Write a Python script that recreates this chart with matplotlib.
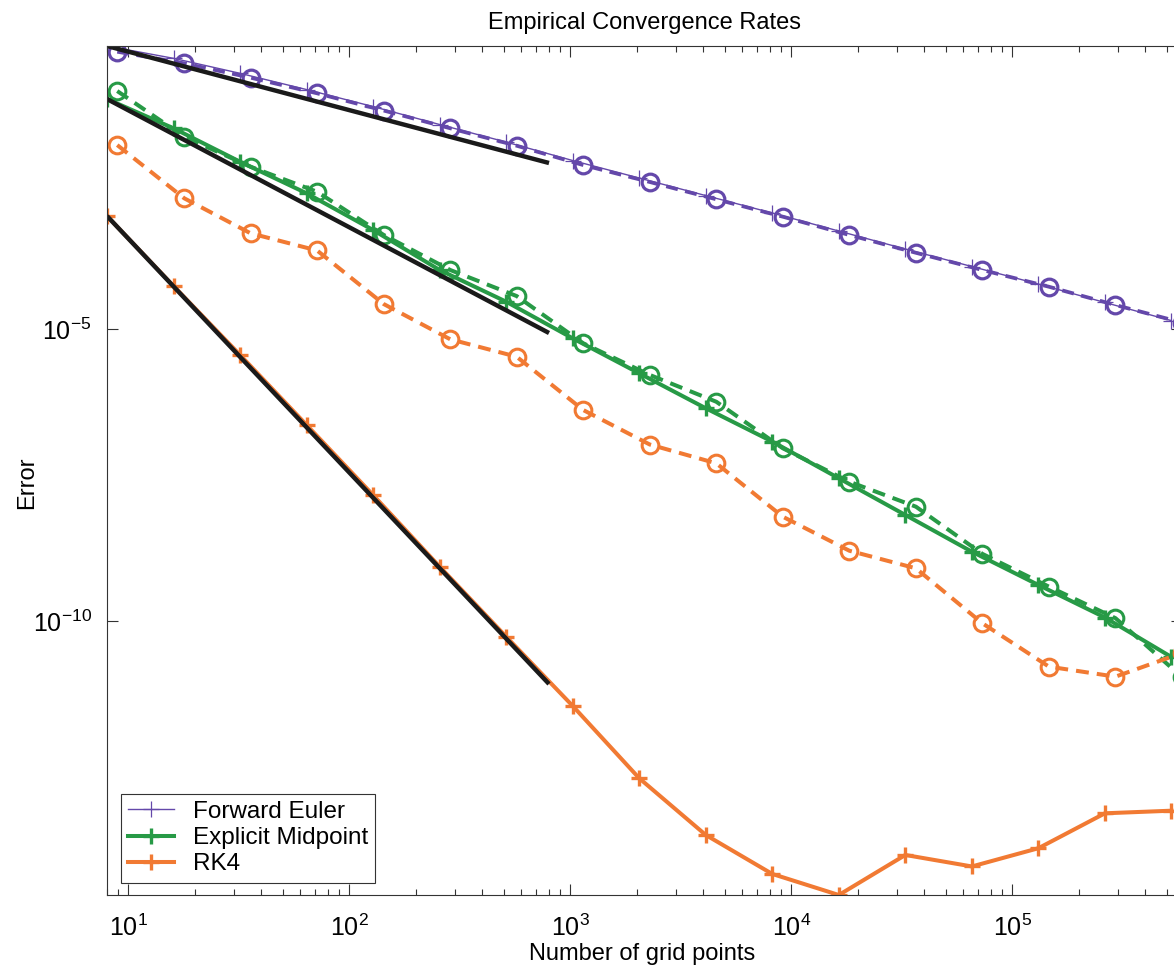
import matplotlib
matplotlib.use("Agg")
import matplotlib.pyplot as plt
from matplotlib.ticker import NullLocator

plt.rcParams["font.family"] = ["Liberation Sans", "DejaVu Sans"]
plt.rcParams["mathtext.default"] = "regular"
plt.rcParams["axes.unicode_minus"] = False

# grid sizes for the solid runs and for the dashed (circle) runs
n_points = [8, 16, 32, 64, 128, 256, 512, 1024, 2048, 4096, 8192, 16384,
            32768, 65536, 131072, 262144, 524288]
n_points_alt = [8.9, 17.9, 35.7, 71.4, 143, 286, 571, 1143, 2286, 4571, 9143,
                18286, 36571, 73143, 146286, 292571, 585143]

euler_err = [0.689, 0.424, 0.235, 0.124, 0.0635, 0.0313, 0.0157, 7.59e-3,
             3.81e-3, 1.91e-3, 9.62e-4, 4.73e-4, 2.33e-4, 1.17e-4, 5.87e-5,
             2.84e-5, 1.39e-5]
euler_err_alt = [0.550, 0.348, 0.198, 0.107, 0.0543, 0.0270, 0.0136, 6.35e-3,
                 3.26e-3, 1.65e-3, 8.32e-4, 4.05e-4, 2.01e-4, 1.02e-4, 5.28e-5,
                 2.57e-5, 1.29e-5]

midpoint_err = [0.0855, 0.0270, 7.24e-3, 2.09e-3, 4.92e-4, 1.02e-4, 2.93e-5,
                6.93e-6, 1.75e-6, 4.42e-7, 1.19e-7, 2.81e-8, 6.62e-9, 1.56e-9,
                4.21e-10, 1.17e-10, 2.47e-11]
midpoint_err_alt = [0.117, 0.01936, 5.94e-3, 2.22e-3, 4.05e-4, 1.02e-4, 3.66e-5,
                    5.70e-6, 1.64e-6, 5.71e-7, 9.14e-8, 2.45e-8, 9.18e-9,
                    1.43e-9, 3.94e-10, 1.14e-10, 1.12e-11]

rk4_err = [8.55e-4, 5.43e-5, 3.60e-6, 2.29e-7, 1.45e-8, 8.65e-10, 5.50e-11,
           3.60e-12, 2.09e-13, 2.24e-14, 4.83e-15, 2.11e-15, 1.02e-14,
           6.49e-15, 1.33e-14, 5.26e-14, 5.83e-14]
rk4_err_alt = [0.01396, 1.714e-3, 4.33e-4, 2.20e-4, 2.67e-5, 6.67e-6, 3.36e-6,
               4.12e-7, 1.06e-7, 5.06e-8, 6.18e-9, 1.62e-9, 8.11e-10, 9.31e-11,
               1.69e-11, 1.14e-11, 2.90e-11]

# reference slopes (order 1, 2, 4) anchored at the coarsest grid
ref_n = [8, 800]
ref_order1 = [0.689, 6.89e-3]
ref_order2 = [0.0855, 8.55e-6]
ref_order4 = [8.55e-4, 8.55e-12]

PURPLE = "#6448aa"
GREEN = "#279a46"
ORANGE = "#f17a33"

W, H = 1174, 971
fig = plt.figure(figsize=(W / 100, H / 100), dpi=100)
# right spine sits just past the image edge
left, right, top, bottom = 107, 1182, 46, 895
ax = fig.add_axes([left / W, 1 - bottom / H, (right - left) / W, (bottom - top) / H])

dash = (0, (3.2, 2.0))

ax.plot(n_points, euler_err, color=PURPLE, lw=1.0, marker="+", ms=11, mew=0.9,
        label="Forward Euler")
ax.plot(n_points_alt, euler_err_alt, color=PURPLE, lw=2.7, ls=dash, marker="o",
        ms=12, mew=2.3, mfc="none")

ax.plot(n_points, midpoint_err, color=GREEN, lw=2.9, marker="+", ms=11, mew=2.4,
        label="Explicit Midpoint")
ax.plot(n_points_alt, midpoint_err_alt, color=GREEN, lw=2.9, ls=dash, marker="o",
        ms=12, mew=2.2, mfc="none")

ax.plot(n_points, rk4_err, color=ORANGE, lw=2.9, marker="+", ms=11, mew=2.4,
        label="RK4")
ax.plot(n_points_alt, rk4_err_alt, color=ORANGE, lw=2.9, ls=dash, marker="o",
        ms=12, mew=2.2, mfc="none")

for ref in (ref_order1, ref_order2, ref_order4):
    ax.plot(ref_n, ref, color="#1a1a1a", lw=3.2, solid_capstyle="butt")

ax.set_xscale("log")
ax.set_yscale("log")
ax.set_yticks([1e-15, 1e-10, 1e-5, 1e0])
ax.yaxis.set_minor_locator(NullLocator())

all_err = euler_err + euler_err_alt + midpoint_err + midpoint_err_alt + rk4_err + rk4_err_alt
ax.set_xlim(min(n_points), max(n_points_alt))
ax.set_ylim(min(all_err), max(all_err))

ax.tick_params(which="both", direction="in", top=True, right=True,
               labelsize=18, color="#333333", width=0.8)
ax.tick_params(which="major", length=8)
ax.tick_params(which="minor", length=4.5)
ax.tick_params(axis="x", which="major", pad=14)
ax.tick_params(axis="y", which="major", pad=11)
for s in ax.spines.values():
    s.set_color("#333333")
    s.set_linewidth(0.8)

ax.set_title("Empirical Convergence Rates", fontsize=17, pad=12)
ax.set_xlabel("Number of grid points", fontsize=17)
ax.set_ylabel("Error", fontsize=17)
ax.xaxis.set_label_coords(0.498, -0.056)
ax.yaxis.set_label_coords(-0.064, 0.486)

leg = ax.legend(loc="lower left", bbox_to_anchor=(14 / (right - left), 12.5 / (bottom - top)),
                borderaxespad=0, fontsize=17.5, frameon=True, fancybox=False,
                framealpha=1, edgecolor="#333333", handlelength=1.9,
                handletextpad=0.75, labelspacing=0.17, borderpad=0.3)
leg.get_frame().set_linewidth(0.8)

fig.savefig("out.png", dpi=100)
